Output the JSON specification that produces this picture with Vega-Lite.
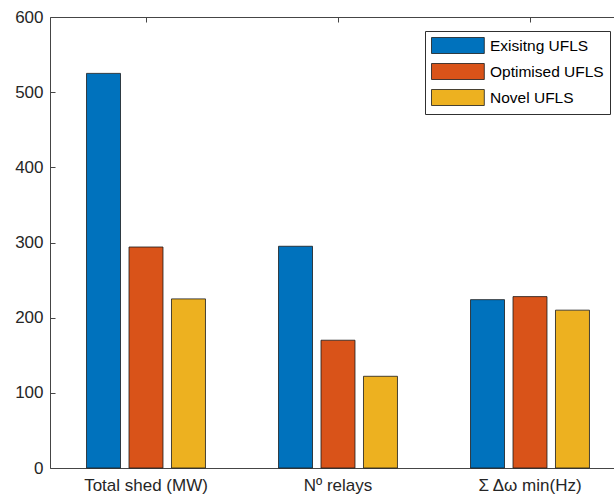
{
  "$schema": "https://vega.github.io/schema/vega-lite/v6.json",
  "width": 576,
  "height": 451,
  "autosize": {"type": "none"},
  "padding": {"left": 50, "top": 17, "right": 0, "bottom": 29},
  "background": "white",
  "config": {
    "view": {"stroke": "#454545", "strokeWidth": 1},
    "font": "Liberation Sans",
    "axis": {
      "domain": false,
      "grid": false,
      "tickColor": "#454545",
      "tickWidth": 1,
      "labelColor": "#262626",
      "labelFont": "Liberation Sans",
      "labelFontSize": 17,
      "title": null
    },
    "legend": {
      "orient": "none",
      "legendX": 375,
      "legendY": 14,
      "strokeColor": "#303030",
      "fillColor": "white",
      "padding": 6,
      "symbolType": "M-1,-1H5.6V1H-1Z",
      "symbolSize": 256,
      "symbolStrokeColor": "#1a1a1a",
      "symbolStrokeWidth": 0.8,
      "symbolOpacity": 1,
      "labelFont": "Liberation Sans",
      "labelFontSize": 15.5,
      "labelColor": "#000000",
      "labelOffset": 42,
      "rowPadding": 5,
      "titleFontSize": 0
    }
  },
  "data": {
    "values": [
      {"metric": "Total shed (MW)", "method": "Exisitng UFLS", "value": 525},
      {"metric": "Total shed (MW)", "method": "Optimised UFLS", "value": 294},
      {"metric": "Total shed (MW)", "method": "Novel UFLS", "value": 225},
      {"metric": "Nº relays", "method": "Exisitng UFLS", "value": 295},
      {"metric": "Nº relays", "method": "Optimised UFLS", "value": 170},
      {"metric": "Nº relays", "method": "Novel UFLS", "value": 122},
      {"metric": "Σ Δω min(Hz)", "method": "Exisitng UFLS", "value": 224},
      {"metric": "Σ Δω min(Hz)", "method": "Optimised UFLS", "value": 228},
      {"metric": "Σ Δω min(Hz)", "method": "Novel UFLS", "value": 210}
    ]
  },
  "layer": [
    {
      "mark": {"type": "bar", "stroke": "#1a1a1a", "strokeWidth": 0.8},
      "encoding": {
        "x": {
          "field": "metric",
          "type": "nominal",
          "sort": ["Total shed (MW)", "Nº relays", "Σ Δω min(Hz)"],
          "scale": {"paddingInner": 0, "paddingOuter": 0},
          "axis": {"orient": "bottom", "labelAngle": 0, "tickSize": -5, "labelPadding": 14}
        },
        "xOffset": {
          "field": "method",
          "type": "nominal",
          "sort": ["Exisitng UFLS", "Optimised UFLS", "Novel UFLS"],
          "scale": {"paddingInner": 0.2, "paddingOuter": 0.86}
        },
        "y": {
          "field": "value",
          "type": "quantitative",
          "scale": {"domain": [0, 600], "nice": false},
          "axis": {"values": [0, 100, 200, 300, 400, 500, 600], "tickSize": -5, "labelPadding": 12}
        },
        "color": {
          "field": "method",
          "type": "nominal",
          "sort": ["Exisitng UFLS", "Optimised UFLS", "Novel UFLS"],
          "scale": {"domain": ["Exisitng UFLS", "Optimised UFLS", "Novel UFLS"], "range": ["#0072BD", "#D95319", "#EDB120"]},
          "legend": {"title": null}
        }
      }
    },
    {
      "mark": {"type": "tick", "opacity": 0},
      "encoding": {
        "x": {
          "field": "metric",
          "type": "nominal",
          "sort": ["Total shed (MW)", "Nº relays", "Σ Δω min(Hz)"],
          "axis": {"orient": "top", "labels": false, "tickSize": -5}
        }
      }
    }
  ],
  "resolve": {"axis": {"x": "independent"}}
}
